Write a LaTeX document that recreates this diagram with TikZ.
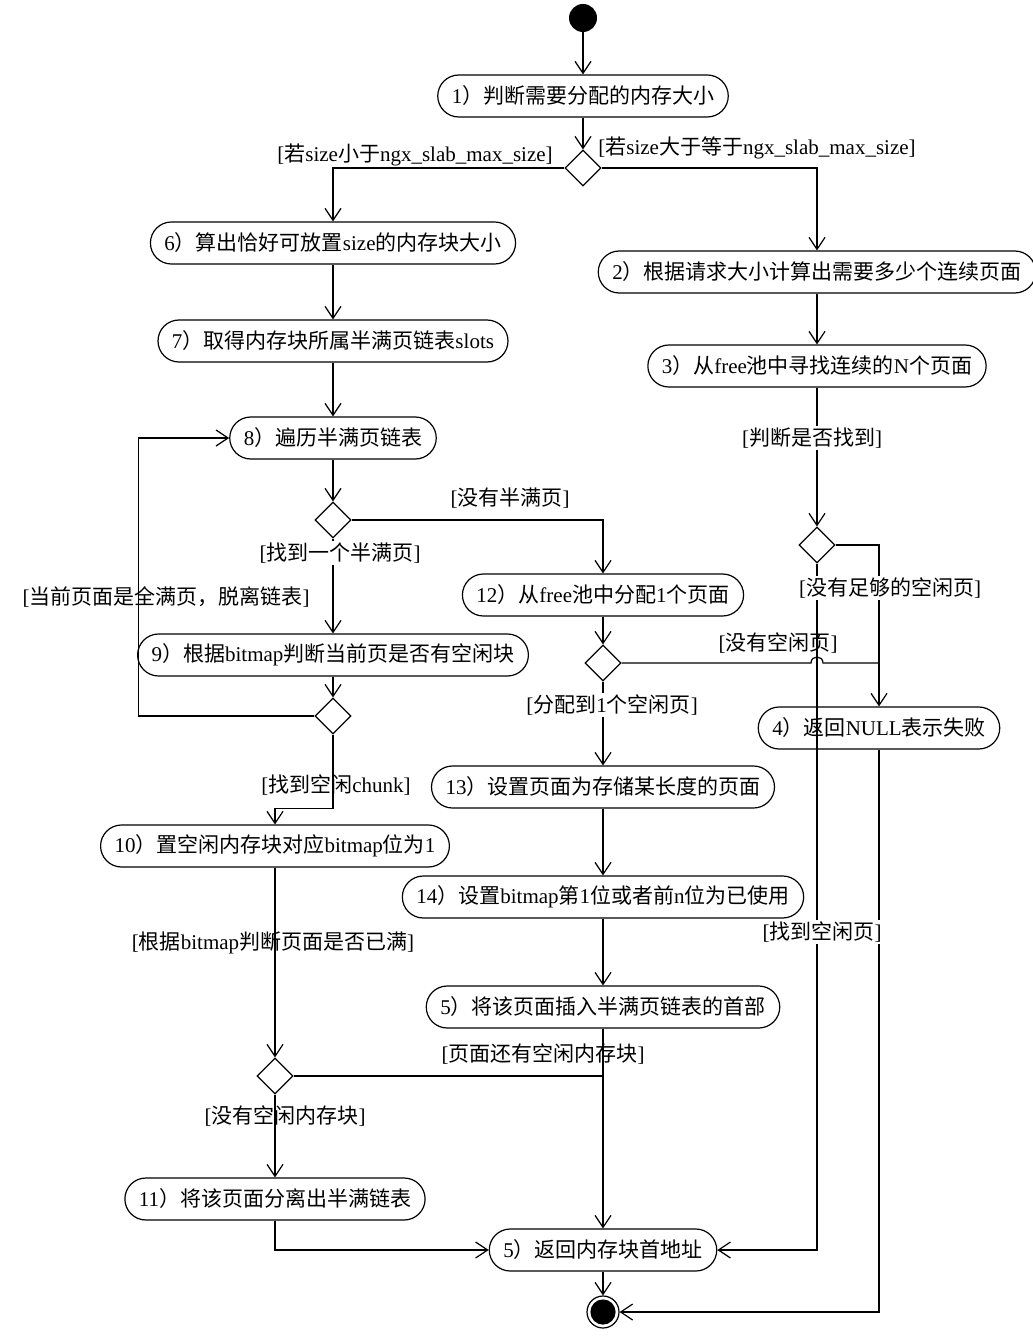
\documentclass[tikz,border=0pt]{standalone}
\usepackage{fontspec}
\setmainfont{Liberation Serif}
\newfontfamily\cjk{Noto Sans CJK SC}
% bascule automatique latin / chinois
\XeTeXinterchartokenstate=1
\newXeTeXintercharclass\classecjk
\count255="4E00
\loop
  \XeTeXcharclass\count255=\classecjk
  \advance\count255 by 1
\ifnum\count255<"A000 \repeat
\XeTeXcharclass"FF08=\classecjk
\XeTeXcharclass"FF09=\classecjk
\XeTeXcharclass"FF0C=\classecjk
\XeTeXinterchartoks 0 \classecjk = {\cjk}
\XeTeXinterchartoks 4095 \classecjk = {\cjk}
\XeTeXinterchartoks \classecjk 0 = {\rmfamily}
\usetikzlibrary{shapes.geometric,arrows.meta}

\begin{document}
\begin{tikzpicture}[x=0.5pt,y=-0.5pt,font=\fontsize{10.5}{12}\selectfont]
	\tikzstyle{fleche}=[-{Straight Barb[length=6pt,width=8pt]},line width=0.6pt]
	\tikzstyle{trait}=[line width=0.6pt]
	\tikzstyle{etape}=[draw,line width=0.6pt,rectangle,rounded corners=10.5pt,minimum height=21pt,inner xsep=7pt,inner ysep=0pt]
	\tikzstyle{choix}=[draw,line width=0.6pt,diamond,minimum width=18pt,minimum height=18pt,inner sep=0pt]
	\tikzstyle{garde}=[inner sep=1pt]
	\tikzstyle{masque}=[fill=white]
	\def\ColG{333}\def\ColH{275}\def\ColM{603}\def\ColD{817}
	\useasboundingbox (0,0) rectangle (1032,1342);
	%
	\node[circle,fill=black,minimum size=14pt,inner sep=0pt] (debut) at (583,18) {};
	\node[etape] (n1) at (583,96) {1）判断需要分配的内存大小};
	\node[choix] (d1) at (583,168) {};
	% colonne de gauche
	\node[etape] (n6) at (\ColG,243) {6）算出恰好可放置size的内存块大小};
	\node[etape] (n7) at (\ColG,341) {7）取得内存块所属半满页链表slots};
	\node[etape] (n8) at (\ColG,438) {8）遍历半满页链表};
	\node[choix] (d2) at (\ColG,520) {};
	\node[etape] (n9) at (\ColG,655) {9）根据bitmap判断当前页是否有空闲块};
	\node[choix] (d3) at (\ColG,716) {};
	\node[etape] (n10) at (\ColH,846) {10）置空闲内存块对应bitmap位为1};
	\node[choix] (d4) at (\ColH,1076) {};
	\node[etape] (n11) at (\ColH,1199) {11）将该页面分离出半满链表};
	% colonne du milieu
	\node[etape] (n12) at (\ColM,595) {12）从free池中分配1个页面};
	\node[choix] (d6) at (\ColM,663) {};
	\node[etape] (n13) at (\ColM,787) {13）设置页面为存储某长度的页面};
	\node[etape] (n14) at (\ColM,897) {14）设置bitmap第1位或者前n位为已使用};
	\node[etape] (n5a) at (\ColM,1007) {5）将该页面插入半满页链表的首部};
	\node[etape] (n5) at (\ColM,1250) {5）返回内存块首地址};
	\node[circle,draw,line width=0.6pt,minimum size=16pt,inner sep=0pt] (fin) at (\ColM,1312) {};
	\fill (fin.center) circle (6.3pt);
	% colonne de droite
	\node[etape] (n2) at (\ColD,272) {2）根据请求大小计算出需要多少个连续页面};
	\node[etape] (n3) at (\ColD,366) {3）从free池中寻找连续的N个页面};
	\node[choix] (d5) at (\ColD,545) {};
	\node[etape] (n4) at (879,728) {4）返回NULL表示失败};
	\coordinate (saut) at (d6 -| d5);
	%
	\draw[fleche] (debut)--(n1);
	\draw[fleche] (n1)--(d1);
	\draw[fleche] (d1.west) -| (n6.north);
	\draw[fleche] (d1.east) -| (n2.north);
	\draw[fleche] (n6)--(n7);
	\draw[fleche] (n7)--(n8);
	\draw[fleche] (n8)--(d2);
	\draw[fleche] (d2)--(n9);
	\draw[fleche] (n9)--(d3);
	\draw[fleche] (d3.west) -- ++(-176,0) |- (n8.west);
	\draw[fleche] (d3.south) -- ++(0,74) -| (n10.north);
	\draw[fleche] (n10)--(d4);
	\draw[trait] (d4.east) -- (d4.east -| n5.north);
	\draw[fleche] (d4)--(n11);
	\draw[fleche] (n11.south) |- (n5.west);
	\draw[fleche] (n5)--(fin);
	\draw[fleche] (d2.east) -| (n12.north);
	\draw[fleche] (n12)--(d6);
	\draw[trait] (d6.east) -- ([xshift=-3pt]saut) .. controls ([xshift=-3pt,yshift=4pt]saut) and ([xshift=3pt,yshift=4pt]saut) .. ([xshift=3pt]saut) -- (d6 -| n4);
	\draw[fleche] (d6)--(n13);
	\draw[fleche] (n13)--(n14);
	\draw[fleche] (n14)--(n5a);
	\draw[fleche] (n5a)--(n5);
	\draw[fleche] (n2)--(n3);
	\draw[fleche] (n3)--(d5);
	\draw[fleche] (d5.east) -| (n4.north);
	\draw[fleche] (d5.south) |- (n5.east);
	\draw[fleche] (n4.south) |- (fin.east);
	%
	\node[garde] (g1) at (415,155) {[若size小于ngx\_slab\_max\_size]};
	\node[garde] (g2) at (757,148) {[若size大于等于ngx\_slab\_max\_size]};
	\node[garde,masque] (g3) at (340,553) {[找到一个半满页]};
	\node[garde] (g4) at (166,597) {[当前页面是全满页，脱离链表]};
	\node[garde] (g5) at (336,785) {[找到空闲chunk]};
	\node[garde] (g6) at (273,943) {[根据bitmap判断页面是否已满]};
	\node[garde] (g7) at (543,1054) {[页面还有空闲内存块]};
	\node[garde] (g8) at (285,1116) {[没有空闲内存块]};
	\node[garde] (g9) at (510,498) {[没有半满页]};
	\node[garde,masque] (g10) at (612,705) {[分配到1个空闲页]};
	\node[garde] (g11) at (778,643) {[没有空闲页]};
	\node[garde,masque] (g12) at (812,438) {[判断是否找到]};
	\node[garde,masque] (g13) at (890,588) {[没有足够的空闲页]};
	\node[garde,masque] (g14) at (822,932) {[找到空闲页]};
\end{tikzpicture}
\end{document}
